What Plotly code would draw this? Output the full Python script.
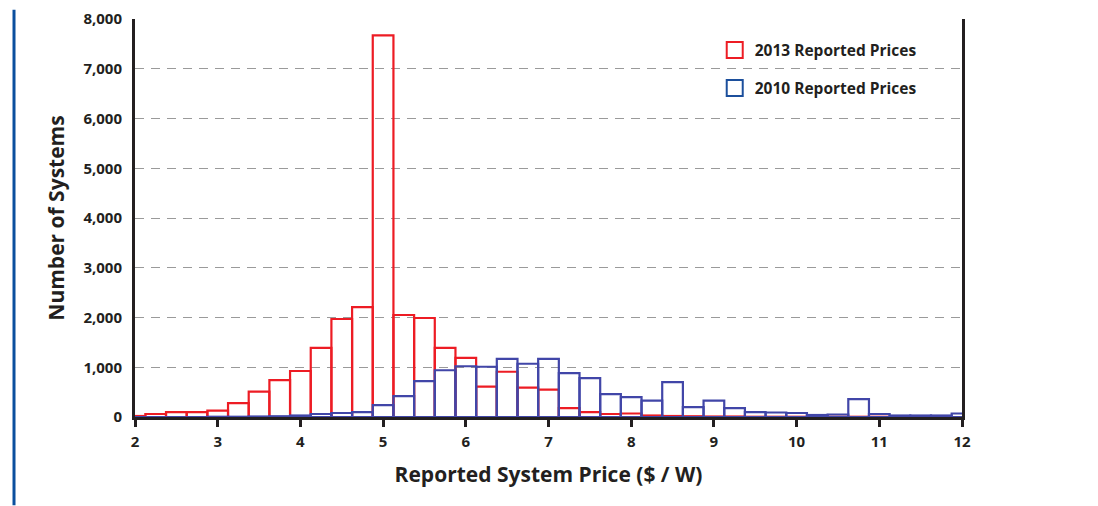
import plotly.graph_objects as go

# Histogram bins ($/W), bin width 0.25
price_bins = [2.0, 2.25, 2.5, 2.75, 3.0, 3.25, 3.5, 3.75, 4.0, 4.25, 4.5, 4.75,
              5.0, 5.25, 5.5, 5.75, 6.0, 6.25, 6.5, 6.75, 7.0, 7.25, 7.5, 7.75,
              8.0, 8.25, 8.5, 8.75, 9.0, 9.25, 9.5, 9.75, 10.0, 10.25, 10.5,
              10.75, 11.0, 11.25, 11.5, 11.75, 12.0]

counts_2013 = [20, 60, 100, 100, 130, 280, 510, 740, 925, 1390, 1970, 2210,
               7670, 2050, 1990, 1390, 1190, 610, 910, 590, 550, 180, 100, 60,
               70, 30, 20, 15, 10, 10, 5, 5, 5, 5, 5, 5, 5, 0, 0, 0, 0]

counts_2010 = [0, 0, 0, 0, 5, 5, 10, 15, 30, 60, 80, 100,
               240, 420, 720, 940, 1020, 1010, 1170, 1070, 1170, 880, 780, 460,
               400, 330, 700, 200, 330, 180, 100, 90, 80, 40, 50,
               360, 60, 30, 30, 30, 70]

series_names = ["2013 Reported Prices", "2010 Reported Prices"]

RED = '#ed1c24'
BLUE_BARS = '#4146a8'
BLUE_KEY = '#1c4f9c'
TEXT = '#231f20'
FONT = 'Open Sans'

fig = go.Figure()

fig.add_trace(go.Bar(
    x=price_bins, y=counts_2013, width=0.25,
    marker=dict(color='rgba(0,0,0,0)', line=dict(color=RED, width=2.2)),
    showlegend=False, name=series_names[0],
))
fig.add_trace(go.Bar(
    x=price_bins, y=counts_2010, width=0.25,
    marker=dict(color='rgba(0,0,0,0)', line=dict(color=BLUE_BARS, width=2.2)),
    showlegend=False, name=series_names[1],
))

# Legend keys (open squares)
for name, col, grp in [(series_names[0], RED, 'a'), (series_names[1], BLUE_KEY, 'b')]:
    fig.add_trace(go.Scatter(
        x=[None], y=[None], mode='markers', name=name, legendgroup=grp,
        marker=dict(symbol='square-open', size=17, color=col, line=dict(width=2)),
    ))

# page body has an 8px margin, so the figure is a bit smaller than the window
fig.update_layout(
    width=1090, height=498,
    barmode='overlay',
    paper_bgcolor='white', plot_bgcolor='white',
    margin=dict(l=127, r=136, t=11, b=89),
    font=dict(family=FONT, color=TEXT),
    legend=dict(
        x=0.701, y=0.964, xanchor='left', yanchor='top',
        bgcolor='rgba(0,0,0,0)', traceorder='grouped', tracegroupgap=15,
        font=dict(size=15.5, family=FONT, weight='bold', color=TEXT),
    ),
    xaxis=dict(
        range=[2, 12], tickvals=[2, 3, 4, 5, 6, 7, 8, 9, 10, 11, 12],
        showgrid=False, zeroline=False, automargin=False,
        showline=True, linecolor='#231f20', linewidth=3,
        ticks='outside', ticklen=7, tickwidth=3, tickcolor='#231f20',
        ticklabelstandoff=2,
        tickfont=dict(size=15, weight='bold'),
        title=dict(text='Reported System Price ($ / W)',
                   font=dict(size=21, weight='bold'), standoff=18),
    ),
    yaxis=dict(
        range=[0, 8000], tickvals=[0, 1000, 2000, 3000, 4000, 5000, 6000, 7000, 8000],
        tickformat=',', showgrid=True, gridcolor='#9a9a9a', gridwidth=1.4,
        griddash='9px,7px', zeroline=False, automargin=False,
        showline=True, mirror=True, linecolor='#231f20', linewidth=3,
        ticks='', ticklabelstandoff=7,
        tickfont=dict(size=15, weight='bold'),
        title=dict(text='Number of Systems', font=dict(size=21, weight='bold'),
                   standoff=14),
    ),
    shapes=[dict(type='line', xref='paper', yref='paper',
                 x0=-0.1463, x1=-0.1463, y0=1.023, y1=-0.222,
                 line=dict(color='#0b4f9e', width=3))],
)

fig.write_html("out.html")
